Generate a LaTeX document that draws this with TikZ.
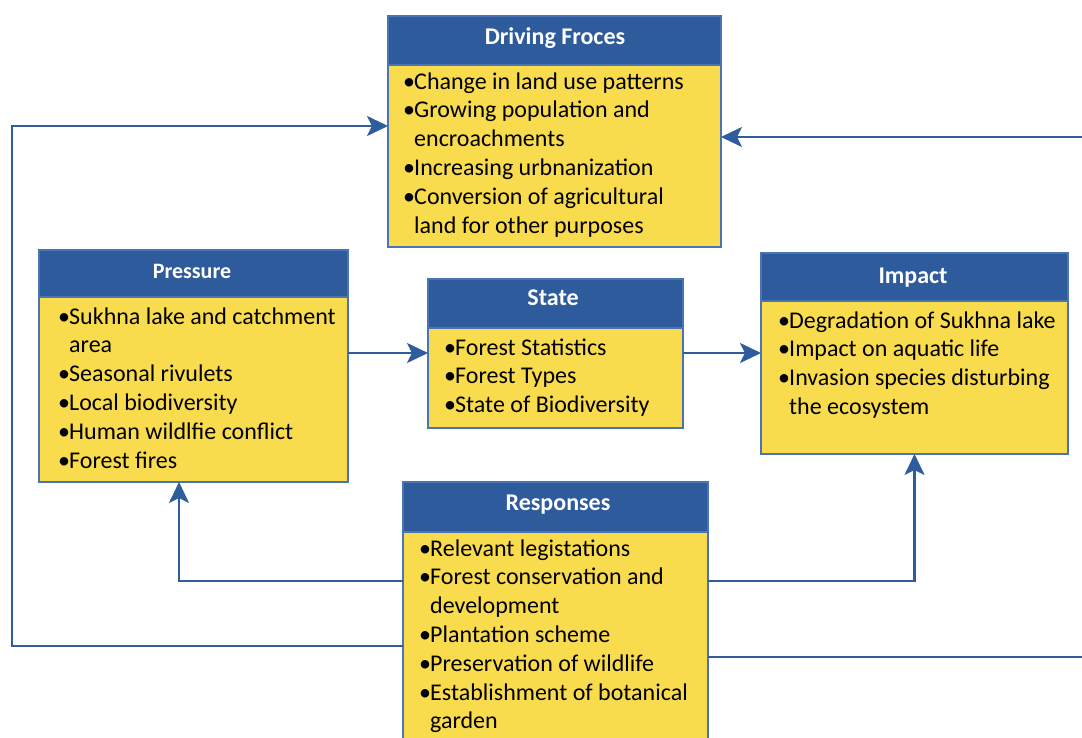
\documentclass[tikz,border=0pt]{standalone}
\usepackage{fontspec}
\setmainfont{Carlito}
\usetikzlibrary{arrows.meta}
\definecolor{hdr}{HTML}{2E5B9B}
\definecolor{bdr}{HTML}{4A74B4}
\definecolor{yel}{HTML}{F9DC4E}
\definecolor{ln}{HTML}{2F5C9C}
\newcommand\bl[1]{\makebox[11pt][l]{\textbullet}#1}
\newcommand\cont[1]{\hspace*{11pt}#1}
\tikzset{
  hbox/.style={rectangle, fill=hdr, draw=bdr, line width=1.4pt, inner sep=0pt, outer sep=0pt, anchor=north west},
  bbox/.style={rectangle, fill=yel, draw=bdr, line width=1.4pt, inner sep=0pt, outer sep=0pt, anchor=north west},
  htext/.style={anchor=base, inner sep=0pt, text=white, font=\bfseries\fontsize{24pt}{28pt}\selectfont},
  btext/.style={anchor=base west, inner sep=0pt, font=\fontsize{24pt}{28.8pt}\selectfont},
  conn/.style={draw=ln, line width=2.5pt, -{Stealth[length=21pt,width=20pt,inset=5pt]}},
  line/.style={draw=ln, line width=2.5pt}
}
\newcommand\btxt[1]{\parbox[t]{330pt}{\raggedright #1}}
\begin{document}
\begin{tikzpicture}[x=1pt,y=-1pt]
\useasboundingbox (0,0) rectangle (1082,737);
\clip (0,0) rectangle (1082,737);
\fill[white] (0,0) rectangle (1082,737);

% Driving Forces
\node[bbox, minimum width=333pt, minimum height=182pt] (db) at (388,65) {};
\node[hbox, minimum width=333pt, minimum height=49pt] (dh) at (388,16) {};
\node[htext] (dt) at (555,44) {Driving Froces};
\node[btext] (dl) at (403,89) {\btxt{\bl{Change in land use patterns}\\
\bl{Growing population and}\\
\cont{encroachments}\\
\bl{Increasing urbnanization}\\
\bl{Conversion of agricultural}\\
\cont{land for other purposes}}};

% Pressure
\node[bbox, minimum width=309pt, minimum height=185pt] (pb) at (39,297) {};
\node[hbox, minimum width=309pt, minimum height=47pt] (ph) at (39,250) {};
\node[htext, font=\bfseries\fontsize{22pt}{26pt}\selectfont] (pt) at (192,278) {Pressure};
\node[btext] (pl) at (58,324) {\btxt{\bl{Sukhna lake and catchment}\\
\cont{area}\\
\bl{Seasonal rivulets}\\
\bl{Local biodiversity}\\
\bl{Human wildlfie conflict}\\
\bl{Forest fires}}};

% State
\node[bbox, minimum width=255pt, minimum height=100pt] (sb) at (428,328) {};
\node[hbox, minimum width=255pt, minimum height=49pt] (sh) at (428,279) {};
\node[htext] (st) at (553,305) {State};
\node[btext] (sl) at (444,355) {\btxt{\bl{Forest Statistics}\\
\bl{Forest Types}\\
\bl{State of Biodiversity}}};

% Impact
\node[bbox, minimum width=307pt, minimum height=153pt] (ib) at (761,301) {};
\node[hbox, minimum width=307pt, minimum height=48pt] (ih) at (761,253) {};
\node[htext] (it) at (913,283) {Impact};
\node[btext] (il) at (778,328) {\btxt{\bl{Degradation of Sukhna lake}\\
\bl{Impact on aquatic life}\\
\bl{Invasion species disturbing}\\
\cont{the ecosystem}}};

% Responses
\node[bbox, minimum width=305pt, minimum height=230pt] (rb) at (403,532) {};
\node[hbox, minimum width=305pt, minimum height=50pt] (rh) at (403,482) {};
\node[htext] (rt) at (558,510) {Responses};
\node[btext] (rl) at (419,556) {\btxt{\bl{Relevant legistations}\\
\bl{Forest conservation and}\\
\cont{development}\\
\bl{Plantation scheme}\\
\bl{Preservation of wildlife}\\
\bl{Establishment of botanical}\\
\cont{garden}}};

% helper coordinates
\coordinate (ymid) at (0,353);
\coordinate (ylow) at (179,581);
\coordinate (yleft) at (0,646);
\coordinate (lcorner) at (12,126);
\coordinate (yright) at (0,657);
\coordinate (rcorner) at (1100,137);

% connectors
\draw[conn] (pb.east |- ymid) -- (sb.west |- ymid);
\draw[conn] (sb.east |- ymid) -- (ib.west |- ymid);
\draw[conn] (rb.west |- ylow) -| (pb.south -| ylow);
\draw[conn] (rb.east |- ylow) -| (ib.south);
\draw[conn] (rb.west |- yleft) -| (lcorner) -- (db.west |- lcorner);
\draw[conn] (rb.east |- yright) -| (rcorner) -- (db.east |- rcorner);
\end{tikzpicture}
\end{document}
